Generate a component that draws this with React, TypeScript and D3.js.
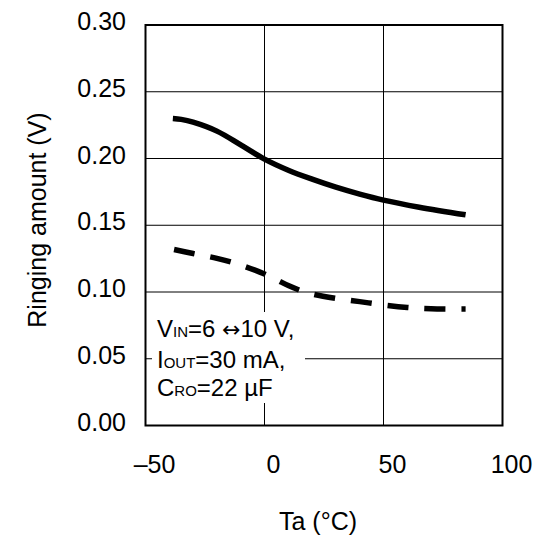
import React from "react";
import * as d3 from "d3";

const xTicks = [-50, 0, 50, 100];
const xTickLabels = ["\u201350", "0", "50", "100"];
const yTicks = [0, 0.05, 0.1, 0.15, 0.2, 0.25, 0.3];
const yTickLabels = ["0.00", "0.05", "0.10", "0.15", "0.20", "0.25", "0.30"];

const solidTemp = [-38.5, -35, -30, -20, -10, 0, 10, 20, 30, 40, 50, 65, 84.5];
const solidVal = [0.23, 0.2293, 0.2272, 0.2205, 0.2102, 0.1995, 0.1912, 0.1845, 0.1785, 0.1733, 0.1688, 0.1635, 0.1578];

const dashTemp = [-38, -30, -20, -10, 0, 5, 10, 15, 20, 30, 40, 50, 60, 70, 84.5];
const dashVal = [0.1318, 0.1288, 0.1252, 0.1202, 0.1135, 0.1092, 0.1048, 0.1012, 0.0985, 0.0952, 0.0928, 0.0903, 0.0884, 0.0874, 0.0872];

const W = 540;
const H = 539;
const L = 145.5;
const R = 502.5;
const T = 25;
const B = 425.5;
const FONT = "'Liberation Sans', Arial, Helvetica, sans-serif";

export default function App() {
  const x = d3.scaleLinear().domain([-50, 100]).range([L, R]);
  const y = d3.scaleLinear().domain([0, 0.3]).range([B, T]);
  const line = d3
    .line<[number, number]>()
    .x((d) => x(d[0]))
    .y((d) => y(d[1]))
    .curve(d3.curveCatmullRom.alpha(0.5));
  const solid = line(solidTemp.map((t, i) => [t, solidVal[i]]) as [number, number][]) || "";
  const dashed = line(dashTemp.map((t, i) => [t, dashVal[i]]) as [number, number][]) || "";

  return (
    <svg
      width={W}
      height={H}
      style={{ position: "absolute", left: 0, top: 0, background: "#fff" }}
      fontFamily={FONT}
    >
      <rect x={0} y={0} width={W} height={H} fill="#fff" />
      {xTicks.slice(1, -1).map((t) => (
        <line key={"gx" + t} x1={x(t)} x2={x(t)} y1={T} y2={B} stroke="#000" strokeWidth={1} />
      ))}
      {yTicks.slice(1, -1).map((t) => (
        <line key={"gy" + t} x1={L} x2={R} y1={y(t)} y2={y(t)} stroke="#000" strokeWidth={1} />
      ))}
      <rect x={152} y={312} width={153} height={91} fill="#fff" />
      <path d={solid} fill="none" stroke="#000" strokeWidth={5.5} />
      <path d={dashed} fill="none" stroke="#000" strokeWidth={5.5} strokeDasharray="21 16" />
      <rect x={L} y={T} width={R - L} height={B - T} fill="none" stroke="#000" strokeWidth={2} />
      {yTicks.map((t, i) => (
        <text
          key={"yl" + t}
          x={126}
          y={y(t) - 4}
          textAnchor="end"
          dominantBaseline="central"
          fontSize={25}
          fill="#000"
        >
          {yTickLabels[i]}
        </text>
      ))}
      {xTicks.map((t, i) => (
        <text
          key={"xl" + t}
          x={x(t) + 9}
          y={473}
          textAnchor="middle"
          fontSize={25}
          fill="#000"
        >
          {xTickLabels[i]}
        </text>
      ))}
      <text x={318} y={530} textAnchor="middle" fontSize={25} fill="#000">
        Ta (°C)
      </text>
      <text
        transform={`translate(46,220) rotate(-90)`}
        textAnchor="middle"
        fontSize={25}
        fill="#000"
      >
        Ringing amount (V)
      </text>
      <text x={157} y={337} fontSize={24} fill="#000">
        V<tspan fontSize={15}>IN</tspan>=6 <tspan fontFamily="'DejaVu Sans', sans-serif" fontSize={22}>↔</tspan>10 V,
      </text>
      <text x={157} y={368} fontSize={24} fill="#000">
        I<tspan fontSize={15}>OUT</tspan>=30 mA,
      </text>
      <text x={157} y={396} fontSize={24} fill="#000">
        C<tspan fontSize={15}>RO</tspan>=22 µF
      </text>
    </svg>
  );
}
